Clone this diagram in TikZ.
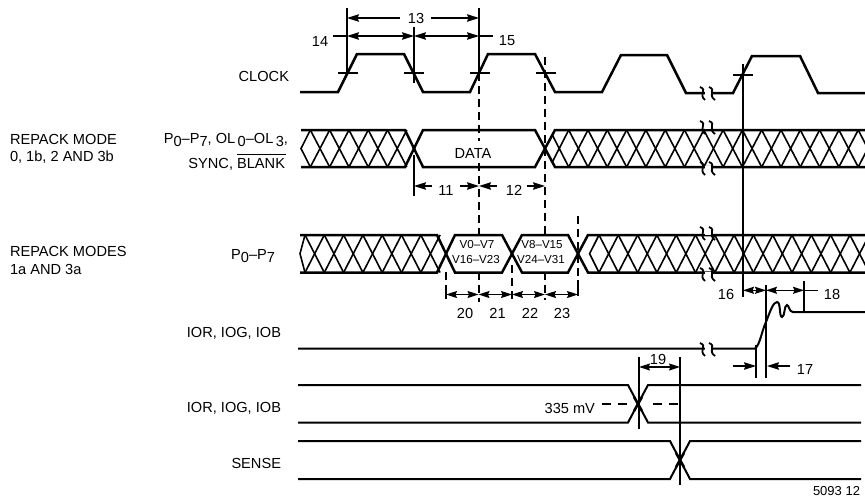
\documentclass[tikz,border=0pt]{standalone}
\usepackage{fontspec}
\setmainfont{Liberation Sans}
\usetikzlibrary{arrows.meta}
\newcommand{\subn}[1]{\raisebox{-3.5pt}{#1}}
\newcommand{\hatchrow}[5]{% first apex, count, period, top, bottom
  \foreach \k in {1,...,#2}{
    \draw[hatchline] ({#1+(\k-1)*#3},#4) -- ({#1+\k*#3},#5);
    \draw[hatchline] ({#1+(\k-1)*#3},#5) -- ({#1+\k*#3},#4);
  }}
\newcommand{\brkmark}[2]{%
  \fill[white] (#1-3.5,#2-2) rectangle (#1+3.5,#2+2);
  \draw[brkline] (#1-8,#2-6) .. controls (#1,#2-3) and (#1-10,#2+1) .. (#1-3,#2+7);
  \draw[brkline] (#1+1,#2-6) .. controls (#1+9,#2-3) and (#1-1,#2+1) .. (#1+7,#2+7);}
\tikzset{
  every node/.style={inner sep=0pt,outer sep=0pt,font=\fontsize{14.6}{16}\selectfont},
  sig/.style={line width=2.5pt,line join=miter},
  rail/.style={line width=2pt,line join=miter},
  hatchline/.style={line width=1.6pt},
  brkline/.style={line width=1.8pt},
  guide/.style={line width=1.1pt},
  dash guide/.style={line width=1.1pt,dash pattern=on 8pt off 5pt},
  dim/.style={line width=1.2pt,{Stealth[length=12pt,width=7.5pt,inset=1.5pt]}-{Stealth[length=12pt,width=7.5pt,inset=1.5pt]}},
  dimR/.style={line width=1.2pt,-{Stealth[length=12pt,width=7.5pt,inset=1.5pt]}},
  dimS/.style={line width=1.2pt,{Stealth[length=11pt,width=7pt,inset=1.5pt]}-{Stealth[length=11pt,width=7pt,inset=1.5pt]}},
  num/.style={font=\fontsize{14.6}{16}\selectfont},
  win/.style={font=\fontsize{11.6}{13}\selectfont},
  figno/.style={font=\fontsize{13}{15}\selectfont},
}
\begin{document}
\begin{tikzpicture}[x=1pt,y=-1pt]
\useasboundingbox (0,0) rectangle (865,499);
\begin{scope}
\clip (0,0) rectangle (865,499);
% guide lines
\draw[guide] (347,8) coordinate (g14) -- (347,75);
\draw[guide] (414,27) coordinate (g13) -- (414,83);
\draw[guide] (479,8) coordinate (g15) -- (479,73);
\draw[guide] (414,155) coordinate (g11) -- (414,196);
\draw[dash guide] (479,73) -- (479,141) (479,163) -- (479,237) (479,272) -- (479,302);
\draw[dash guide] (545,57) coordinate (g12) -- (545,237) (545,272) -- (545,300);
\draw[dash guide] (446,272) coordinate (g20) -- (446,299);
\draw[dash guide] (512,265) coordinate (g22) -- (512,300);
\draw[dash guide] (578,216) coordinate (g23) -- (578,296);
\draw[guide] (743,64) coordinate (g16) -- (743,297);
\draw[guide] (756,345) coordinate (g17a) -- (756,378);
\draw[guide] (766,285) coordinate (g17b) -- (766,378);
\draw[guide] (804,281) coordinate (g18) -- (804,313);
\draw[guide] (639,357) coordinate (g19a) -- (639,429);
\draw[guide] (680,357) coordinate (g19b) -- (680,485);
% tick marks
\draw[guide] (338,73) -- (358,73) (404,73) -- (424,73) (470,73) -- (490,73) (536,73) -- (556,73) (733,75) -- (753,75);
% clock
\draw[sig] (300,92) -- (338,92) -- (357,54) -- (404,54) -- (423,92) -- (470,92) -- (488,54) -- (535,54) -- (555,92) -- (602,92) -- (621,55) -- (667,55) -- (686,93) -- (733,93) -- (752,56) -- (800,56) -- (818,93) -- (865,93);
% row 1
\hatchrow{310.35}{5}{19.3}{130}{167}
\draw[hatchline] (310.35,130) -- (301,148.5) -- (310.35,167);
\draw[hatchline] (552.3,134.9) -- (568.7,167) (552.3,162.1) -- (568.7,130);
\hatchrow{568.7}{16}{19.3}{130}{167}
\draw[sig] (301,130) -- (405,130) -- (423,167) -- (535,167) -- (555,130) -- (865,130);
\draw[sig] (301,167) -- (405,167) -- (423,130) -- (535,130) -- (555,167) -- (865,167);
% row 2
\hatchrow{305}{7}{19.3}{235}{272.5}
\draw[hatchline] (305,235) -- (300,253.7) -- (305,272.5);
\hatchrow{599}{14}{19.3}{235}{272.5}
\draw[hatchline] (599,235) -- (589.6,253.7) -- (599,272.5);
\draw[sig] (300,235) -- (437,235) -- (455,272.5) -- (502,272.5) -- (522,235) -- (568,235) -- (588,272.5) -- (865,272.5);
\draw[sig] (300,272.5) -- (437,272.5) -- (455,235) -- (502,235) -- (522,272.5) -- (568,272.5) -- (588,235) -- (865,235);
% analog outputs
\draw[rail] (298,348.5) -- (755,348.5) .. controls (760,345) and (762,330) .. (766,322) .. controls (770,312) and (773,302) .. (777,302) .. controls (781,302) and (779,317) .. (782,317) .. controls (785,317) and (784,305) .. (787,305) .. controls (789,305) and (789,312) .. (793,312) -- (865,312);
\draw[rail] (298,385) -- (628,385) -- (648,422.5) -- (861,422.5);
\draw[rail] (298,422.5) -- (628,422.5) -- (648,385) -- (861,385);
\draw[rail] (298,441) -- (670,441) -- (690,479) -- (861,479);
\draw[rail] (298,479) -- (670,479) -- (690,441) -- (861,441);
\draw[sig] (634,397) -- (642,411) (642,397) -- (634,411);
\draw[sig] (676,453) -- (684,467) (684,453) -- (676,467);
% breaks
\brkmark{708}{93}
\brkmark{708}{127}
\brkmark{708}{168}
\brkmark{708}{233}
\brkmark{708}{274}
\brkmark{708}{349}
% 335 mV level
\draw[line width=1.1pt,dash pattern=on 9pt off 7pt] (602,404) -- (628,404) (653,404) -- (678,404);
\end{scope}
% dimension arrows
\coordinate (d13a) at (347,18); \coordinate (d13b) at (479,18);
\coordinate (d14a) at (347,36); \coordinate (d14b) at (414,36); \coordinate (d15b) at (479,36);
\coordinate (t14) at (333,36); \coordinate (t15) at (493,36);
\draw[dimR] (400,18) -- (d13a);
\draw[dimR] (431,18) -- (d13b);
\draw[dim] (d14a) -- (d14b);
\draw[dim] (d14b) -- (d15b);
\draw[line width=1.2pt] (t14) -- (d14a) (d15b) -- (t15);
\node[num] (n13) at (416,18) {13};
\node[num] (n14) at (320,41) {14};
\node[num] (n15) at (507,41) {15};
% 11 / 12
\coordinate (d11a) at (414,186); \coordinate (d11b) at (479,186); \coordinate (d12b) at (545,186);
\draw[dimR] (432,186) -- (d11a);
\draw[dimR] (460,186) -- (d11b);
\draw[dimR] (497,186) -- (d11b);
\draw[dimR] (527,186) -- (d12b);
\node[num] (n11) at (446,190) {11};
\node[num] (n12) at (514,190) {12};
% 20-23
\coordinate (d20) at (446,294.5); \coordinate (d21) at (478.5,294.5); \coordinate (d22) at (512,294.5); \coordinate (d23) at (545,294.5); \coordinate (d24) at (578,294.5);
\draw[dimS] (d20) -- (d21);
\draw[dimS] (d21) -- (d22);
\draw[dimS] (d22) -- (d23);
\draw[dimS] (d23) -- (d24);
\draw[guide] (446,286) -- (446,299) (578,280) -- (578,295);
\node[num] (n20) at (465,313) {20};
\node[num] (n21) at (497.5,313) {21};
\node[num] (n22) at (530,313) {22};
\node[num] (n23) at (562,313) {23};
% 16-18
\coordinate (d16a) at (743,290.3); \coordinate (d16b) at (766,290.3); \coordinate (d18b) at (804,290.3); \coordinate (t18) at (818,290.3);
\draw[dimS] (d16a) -- (d16b);
\draw[dimS] (d16b) -- (d18b);
\draw[line width=1.2pt] (d18b) -- (t18);
\node[num] (n16) at (726,294) {16};
\node[num] (n18) at (832,294) {18};
\coordinate (d17a) at (756,366); \coordinate (d17b) at (767,366);
\draw[dimR] (733,366) -- (d17a);
\draw[dimR] (790,366) -- (d17b);
\node[num] (n17) at (805,369) {17};
% 19
\coordinate (d19a) at (639,367); \coordinate (d19b) at (680,367);
\draw[dimS] (d19a) -- (d19b);
\node[num] (n19) at (658,359) {19};
% window and signal text
\node (data) at (473,153) {DATA};
\node[win] (w1) at (477,244) {V0–V7};
\node[win] (w2) at (476,259) {V16–V23};
\node[win] (w3) at (542,245) {V8–V15};
\node[win] (w4) at (541,259) {V24–V31};
\node[anchor=west] (m1a) at (10,139) {REPACK MODE};
\node[anchor=west] (m1b) at (10,157) {0, 1b, 2 AND 3b};
\node[anchor=west] (m2a) at (10,251) {REPACK MODES};
\node[anchor=west] (m2b) at (10,269) {1a AND 3a};
\node[anchor=east] (clk) at (289,76) {CLOCK};
\node[anchor=east] (p1) at (288,140) {P\subn{0}–P\subn{7}, OL\,\subn{0}–OL\,\subn{3},};
\node[anchor=east] (p2) at (285,162) {SYNC, \rlap{\raisebox{14pt}{\rule{49pt}{1.1pt}}}BLANK};
\node[anchor=east] (p3) at (275,256) {P\subn{0}–P\subn{7}};
\node[anchor=east] (i1) at (281,333) {IOR, IOG, IOB};
\node[anchor=east] (i2) at (281,408) {IOR, IOG, IOB};
\node[anchor=east] (s) at (281,463) {SENSE};
\node[anchor=east] (mv) at (595,408) {335 mV};
\node[anchor=east,figno] (fig) at (860,491) {5093 12};
\end{tikzpicture}
\end{document}
